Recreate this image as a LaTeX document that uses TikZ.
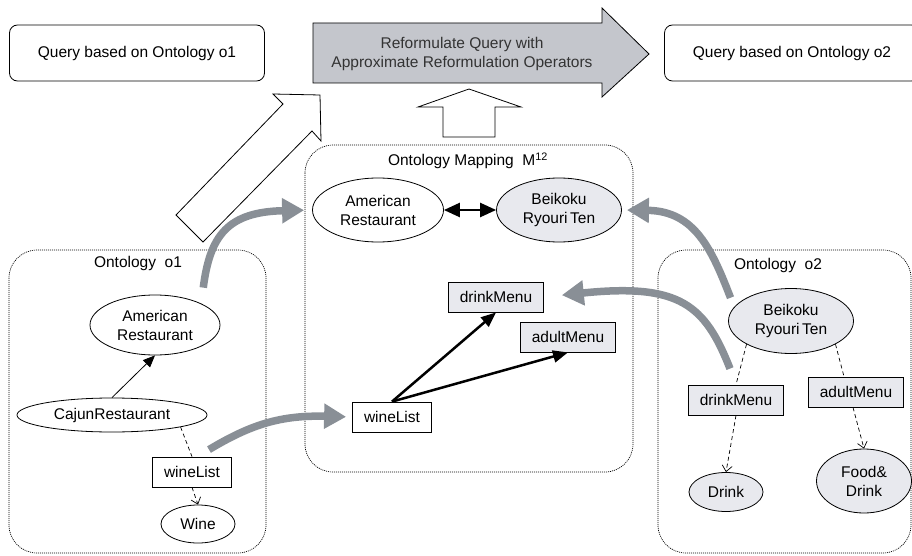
\documentclass[tikz,border=0pt]{standalone}
\usepackage{fontspec}
\setmainfont{Liberation Sans}
\usepackage{xcolor}
\usepackage{tikz}
\usetikzlibrary{arrows.meta, calc, shapes.geometric, positioning}

\definecolor{reformgray}{RGB}{196,198,204}
\definecolor{conceptgray}{RGB}{232,233,238}
\definecolor{flowgray}{RGB}{137,143,150}

\begin{document}
\begin{tikzpicture}[x=1pt, y=-1pt,
    font=\fontsize{15.5}{19}\selectfont,
    concept/.style={draw, ellipse, inner sep=0pt, align=center, line width=0.8pt},
    relation/.style={draw, rectangle, inner sep=0pt, minimum height=30pt, line width=0.8pt},
    querybox/.style={draw, rounded corners=8pt, minimum width=255pt, minimum height=56pt, line width=0.8pt},
    ontobox/.style={line width=0.7pt, dash pattern=on 1pt off 1pt, rounded corners=28pt},
    flow/.style={flowgray, line width=7.5pt, -{Triangle[length=22pt,width=24pt]}},
    mapline/.style={line width=2.5pt, -{Triangle[length=15pt,width=12pt]}},
    subline/.style={dash pattern=on 4pt off 3pt, line width=0.7pt}]
    \useasboundingbox (0,0) rectangle (912,556);

    % Query boxes
    \node[querybox] (q1) at (137,53) {Query based on Ontology o1};
    \node[querybox] (q2) at (792,53) {Query based on Ontology o2};

    % Reformulation arrow
    \draw[fill=reformgray, line width=0.8pt] (313,23) -- (602,23) -- (602,8) -- (649,54)
        -- (602,97) -- (602,83) -- (313,83) -- cycle;
    \node[align=center, text=black!80] (reform) at (462,54)
        {Reformulate Query with\\Approximate Reformulation Operators};

    % Hollow arrows
    \draw[fill=white, line width=0.8pt] (443,137) -- (443,107) -- (418,107) -- (469,89)
        -- (521,107) -- (495,107) -- (495,137) -- cycle;
    \draw[fill=white, line width=0.8pt] (176,215) -- (283,104) -- (273,94) -- (320,95)
        -- (321,141) -- (312,131) -- (203,242) -- cycle;

    % Ontology containers
    \draw[ontobox] (9,250) rectangle (266,553);
    \node (o1title) at (138,263) {Ontology\ \ o1};
    \draw[ontobox] (305,145) rectangle (633,472);
    \node (mtitle) at (468,161) {Ontology Mapping\ \ M\textsuperscript{12}};
    \draw[ontobox] (658,250) rectangle (911,553);
    \node (o2title) at (778,265) {Ontology\ \ o2};

    % Ontology o1
    \node[concept, minimum width=130pt, minimum height=60pt] (oAR) at (155,325) {American\\Restaurant};
    \node[concept, minimum width=190pt, minimum height=34pt] (oCR) at (112,415) {CajunRestaurant};
    \node[relation, minimum width=79pt] (oWL) at (192,472) {wineList};
    \node[concept, minimum width=74pt, minimum height=38pt] (oWine) at (198,524) {Wine};

    % Mapping
    \node[concept, minimum width=131pt, minimum height=64pt] (mAR) at (378,210) {American\\Restaurant};
    \node[concept, fill=conceptgray, minimum width=125pt, minimum height=64pt] (mBR) at (559,210) {Beikoku\\Ryouri\,Ten};
    \node[relation, fill=conceptgray, minimum width=95pt] (mDM) at (496,297) {drinkMenu};
    \node[relation, fill=conceptgray, minimum width=95pt] (mAM) at (568,337) {adultMenu};
    \node[relation, minimum width=79pt] (mWL) at (392,417) {wineList};

    % Ontology o2
    \node[concept, fill=conceptgray, minimum width=125pt, minimum height=65pt] (oBR) at (791,321) {Beikoku\\Ryouri\,Ten};
    \node[relation, fill=conceptgray, minimum width=95pt] (oDM) at (736,400) {drinkMenu};
    \node[relation, fill=conceptgray, minimum width=95pt] (oAM) at (856,392) {adultMenu};
    \node[concept, fill=conceptgray, minimum width=74pt, minimum height=39pt] (oDrink) at (726,492) {Drink};
    \node[concept, fill=conceptgray, minimum width=95pt, minimum height=64pt] (oFD) at (864,481) {Food\&\\Drink};

    % Links inside o1
    \draw[line width=0.8pt, -{Triangle[length=12pt,width=10pt]}] (oCR.north) -- (oAR.south);
    \draw[subline] (oCR.-10) -- (oWL.north);
    \draw[subline, -{Straight Barb[length=6pt,width=10pt]}] (oWL.south) -- (oWine.north);

    % Links inside mapping
    \draw[line width=2.5pt, {Triangle[length=16pt,width=14pt]}-{Triangle[length=16pt,width=14pt]}] (mAR) -- (mBR);
    \draw[mapline] (mWL.north) -- (mDM.south);
    \draw[mapline] (mWL.north) -- (mAM.south);

    % Links inside o2
    \draw[subline] (oBR.south west) -- (oDM.north);
    \draw[subline] (oBR.south east) -- ($(oAM.north)+(-12,0)$);
    \draw[subline, -{Straight Barb[length=6pt,width=10pt]}] (oDM.south) -- (oDrink.north);
    \draw[subline, -{Straight Barb[length=6pt,width=10pt]}] ($(oAM.south)+(-3,0)$) -- (oFD.north);

    % Correspondences
    \draw[flow, shorten <=16pt, shorten >=8pt] (oAR.north east) .. controls (210,235) and (228,212) .. (mAR.west);
    \draw[flow, shorten >=6pt] ($(oWL.north)+(17,-7)$) .. controls (250,425) and (280,415) .. (mWL.west);
    \draw[flow, shorten >=5pt] ($(oBR.north west)+(-16,0)$) .. controls (712,250) and (695,211) .. (mBR.east);
    \draw[flow, shorten >=18pt] ($(oDM.north)+(-6,-16)$) .. controls (705,305) and (680,283) .. (mDM.east);

\end{tikzpicture}
\end{document}
